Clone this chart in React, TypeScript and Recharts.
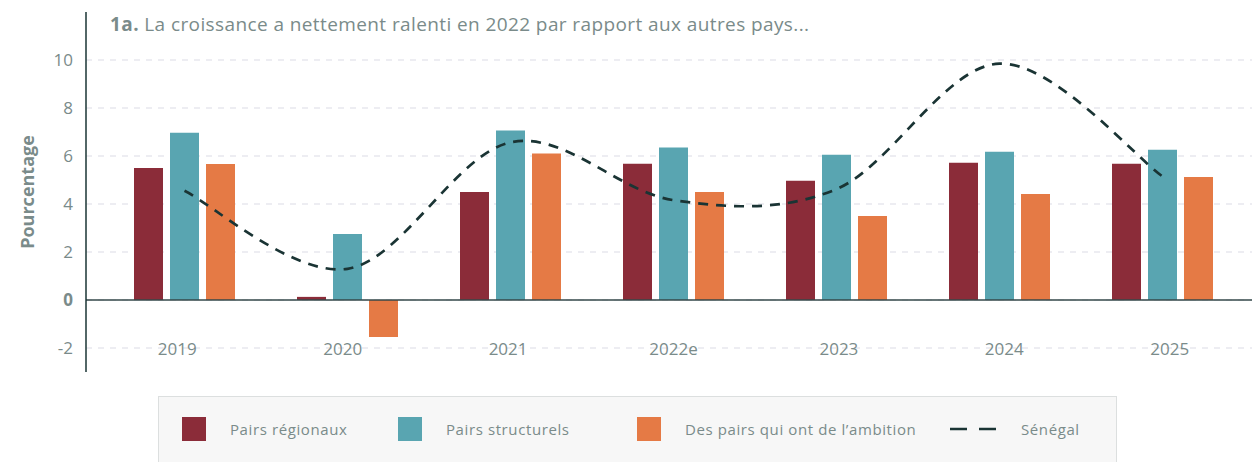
import React from 'react';
import {
  ComposedChart,
  Bar,
  Line,
  XAxis,
  YAxis,
  CartesianGrid,
  ReferenceLine,
} from 'recharts';

const years = ['2019', '2020', '2021', '2022e', '2023', '2024', '2025'];
const regionalPeers = [5.5, 0.13, 4.5, 5.68, 4.97, 5.72, 5.68];
const structuralPeers = [6.97, 2.75, 7.06, 6.35, 6.05, 6.18, 6.26];
const ambitionPeers = [5.67, -1.54, 6.1, 4.5, 3.5, 4.42, 5.13];
const senegal = [4.55, 1.3, 6.57, 4.16, 4.62, 9.85, 5.15];
const yTicks = [-2, 0, 2, 4, 6, 8, 10];

const RED = '#8b2c39';
const TEAL = '#59a5b1';
const ORANGE = '#e57a45';
const DARK = '#1a3434';
const GREY = '#7a8b8a';
const FONT = '"Open Sans", "Noto Sans", sans-serif';

const data = years.map((year, i) => ({
  year,
  regional: regionalPeers[i],
  structural: structuralPeers[i],
  ambition: ambitionPeers[i],
  senegal: senegal[i],
}));

// cardinal spline (tension 0), the smoothing the source chart uses
const cardinalCurve = (context: any) => {
  let pts: number[][] = [];
  return {
    areaStart() {},
    areaEnd() {},
    lineStart() {
      pts = [];
    },
    point(x: number, y: number) {
      pts.push([+x, +y]);
    },
    lineEnd() {
      const n = pts.length;
      if (!n) return;
      context.moveTo(pts[0][0], pts[0][1]);
      for (let i = 0; i < n - 1; i++) {
        const p0 = pts[Math.max(i - 1, 0)];
        const p1 = pts[i];
        const p2 = pts[i + 1];
        const p3 = pts[Math.min(i + 2, n - 1)];
        context.bezierCurveTo(
          p1[0] + (p2[0] - p0[0]) / 6,
          p1[1] + (p2[1] - p0[1]) / 6,
          p2[0] - (p3[0] - p1[0]) / 6,
          p2[1] - (p3[1] - p1[1]) / 6,
          p2[0],
          p2[1],
        );
      }
    },
  };
};

const legendItems = [
  { label: 'Pairs régionaux', color: RED, width: 216 },
  { label: 'Pairs structurels', color: TEAL, width: 239 },
  { label: 'Des pairs qui ont de l\u2019ambition', color: ORANGE, width: 313 },
  { label: 'Sénégal', color: DARK, width: 160, dashed: true },
];

const LegendBox = () => (
  <div
    style={{
      position: 'absolute',
      left: 158,
      top: 396,
      width: 959,
      height: 70,
      boxSizing: 'border-box',
      background: '#f7f7f7',
      border: '1px solid #dcdfdf',
      borderBottom: 'none',
      display: 'flex',
      alignItems: 'center',
      paddingLeft: 23,
      paddingBottom: 6,
      fontFamily: FONT,
      fontSize: 15,
      letterSpacing: 0.6,
      color: GREY,
    }}
  >
    {legendItems.map((item) => (
      <div key={item.label} style={{ width: item.width, display: 'flex', alignItems: 'center' }}>
        {item.dashed ? (
          <svg width={48} height={24} style={{ marginRight: 23 }}>
            <line x1={0} y1={12} x2={48} y2={12} stroke={item.color} strokeWidth={2.5} strokeDasharray="17 12" />
          </svg>
        ) : (
          <div style={{ width: 24, height: 24, background: item.color, marginRight: 24 }} />
        )}
        <span>{item.label}</span>
      </div>
    ))}
  </div>
);

const YearTick = ({ x, y, payload, index }: any) => (
  <text
    x={x + (index - 3) * 2.4}
    y={y}
    dy={-19}
    textAnchor="middle"
    fill={GREY}
    fontSize={17}
    fontFamily={FONT}
  >
    {payload.value}
  </text>
);

const ValueTick = ({ x, y, payload }: any) => (
  <text
    x={x}
    y={y}
    dy={6}
    textAnchor="end"
    fill={GREY}
    fontSize={17}
    fontFamily={FONT}
    fontWeight={payload.value === 0 ? 700 : 400}
  >
    {payload.value}
  </text>
);

const YLabel = ({ viewBox }: any) => {
  const cx = viewBox.x + 27;
  const cy = viewBox.y + viewBox.height / 2;
  return (
    <text
      x={cx}
      y={cy}
      transform={`rotate(-90, ${cx}, ${cy})`}
      textAnchor="middle"
      dominantBaseline="central"
      fill={GREY}
      fontSize={18}
      fontWeight={700}
      fontFamily={FONT}
    >
      Pourcentage
    </text>
  );
};

export default function App() {
  return (
    <div style={{ position: 'absolute', left: 0, top: 0, width: 1252, height: 462, background: '#fff', overflow: 'hidden' }}>
      <ComposedChart
        width={1252}
        height={462}
        data={data}
        margin={{ top: 12, right: 0, left: 0, bottom: 60 }}
        barGap={7}
      >
        <CartesianGrid vertical={false} stroke="#e8e8ee" strokeDasharray="6 6" strokeWidth={1.5} syncWithTicks />
        <XAxis
          dataKey="year"
          axisLine={false}
          tickLine={false}
          tickSize={0}
          height={30}
          padding={{ left: 17, right: 8 }}
          tick={<YearTick />}
          interval={0}
        />
        <YAxis
          width={86}
          domain={[-3, 12]}
          ticks={yTicks}
          tickLine={false}
          tickSize={0}
          tickMargin={13}
          axisLine={{ stroke: DARK, strokeWidth: 1.5 }}
          tick={<ValueTick />}
          label={<YLabel />}
        />
        <Bar dataKey="regional" fill={RED} barSize={29} isAnimationActive={false} />
        <Bar dataKey="structural" fill={TEAL} barSize={29} isAnimationActive={false} />
        <Bar dataKey="ambition" fill={ORANGE} barSize={29} isAnimationActive={false} />
        <ReferenceLine y={0} stroke="#34494a" strokeWidth={1.5} />
        <Line
          type={cardinalCurve as any}
          dataKey="senegal"
          stroke={DARK}
          strokeWidth={2.7}
          strokeDasharray="10 8"
          dot={false}
          activeDot={false}
          isAnimationActive={false}
        />
      </ComposedChart>
      <div
        style={{
          position: 'absolute',
          left: 110,
          top: 11,
          fontFamily: FONT,
          fontSize: 19,
          letterSpacing: 0.4,
          color: GREY,
          whiteSpace: 'nowrap',
        }}
      >
        <b>1a.</b> La croissance a nettement ralenti en 2022 par rapport aux autres pays...
      </div>
      <LegendBox />
    </div>
  );
}
